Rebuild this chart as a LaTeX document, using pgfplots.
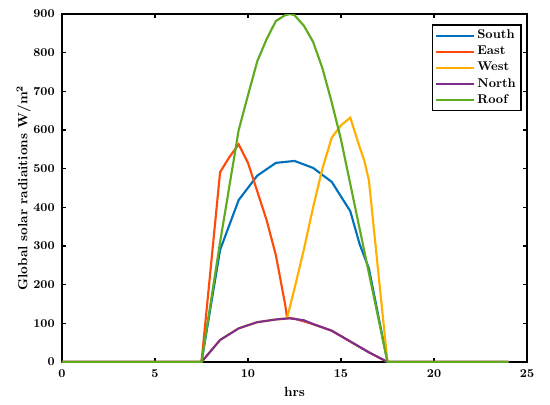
\documentclass[border=0pt]{standalone}
\usepackage{pgfplots}
\pgfplotsset{compat=1.18}

\definecolor{cSouth}{RGB}{0,114,189}
\definecolor{cEast}{RGB}{255,75,10}
\definecolor{cWest}{RGB}{255,175,0}
\definecolor{cNorth}{RGB}{126,47,142}
\definecolor{cRoof}{RGB}{95,170,30}

\begin{document}
\begin{tikzpicture}
% frame of the 550x404 picture (1px = 0.75pt)
\useasboundingbox (-46.5pt,-31.5pt) rectangle (366pt,271.5pt);
\begin{axis}[
    scale only axis,
    width=348.75pt, height=261pt,
    xmin=0, xmax=25, ymin=0, ymax=900,
    xtick={0,5,...,25},
    ytick={0,100,...,900},
    tick align=inside,
    major tick length=3pt,
    axis line style={line width=1.1pt},
    every tick/.style={black, line width=1.1pt},
    /pgf/number format/assume math mode=true,
    ticklabel style={font=\bfseries\fontsize{9}{10}\selectfont},
    xticklabel style={yshift=-2.5pt},
    yticklabel style={xshift=-2pt},
    xlabel={hrs},
    ylabel={Global solar radiaitions W/m\textsuperscript{2}},
    label style={font=\bfseries\fontsize{10}{12}\selectfont},
    xlabel style={yshift=0pt},
    ylabel style={at={(axis description cs:-0.057,0.5)}, anchor=south},
    legend style={at={(0.989,0.971)}, anchor=north east, draw=black,
        line width=1.1pt, font=\bfseries\fontsize{9.5}{11.5}\selectfont,
        inner sep=2pt},
    legend cell align=left,
    legend image code/.code={\draw[#1, line width=1.6pt] (0cm,0cm) -- (0.98cm,0cm);},
    every axis plot/.append style={line width=1.6pt},
]
\addplot[cSouth] coordinates {
 (0,0) (7.5,0) (8.5,290) (9.5,419) (10.5,482) (11.5,515) (12.5,520)
 (13.5,502) (14.5,466) (15.5,390) (16,305) (16.5,242) (17.5,0) (24,0)
};
\addlegendentry{South}
\addplot[cEast] coordinates {
 (0,0) (7.5,0) (8.5,491) (9,530) (9.5,563) (10,515) (10.5,441) (11,367)
 (11.5,276) (12,148) (12.1,114) (12.5,112) (13.5,98) (14.5,81) (15.5,53)
 (16,39) (16.5,25) (17.5,0) (24,0)
};
\addlegendentry{East}
\addplot[cWest] coordinates {
 (0,0) (7.5,0) (8.5,57) (9.5,87) (10.5,103) (11.5,110) (12.1,113)
 (12.5,190) (13,290) (13.5,400) (14,500) (14.5,580) (15,612) (15.5,632)
 (16,556) (16.25,521) (16.5,470) (17.5,0) (24,0)
};
\addlegendentry{West}
\addplot[cNorth] coordinates {
 (0,0) (7.5,0) (8.5,57) (9.5,87) (10.5,103) (11.5,110) (12.25,113)
 (13,108) (13.5,98) (14.5,81) (15.5,53) (16,39) (16.5,25) (17.5,0) (24,0)
};
\addlegendentry{North}
\addplot[cRoof] coordinates {
 (0,0) (7.5,0) (8.5,310) (9,455) (9.5,600) (10,690) (10.5,778) (11,835)
 (11.5,882) (12,897) (12.25,900) (12.5,897) (13,870) (13.5,828) (14,760)
 (14.5,672) (15,575) (15.5,460) (16,345) (16.5,230) (17.5,0) (24,0)
};
\addlegendentry{Roof}
\end{axis}
\end{tikzpicture}
\end{document}
